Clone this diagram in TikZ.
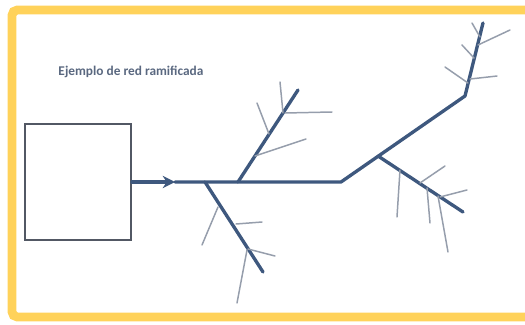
\documentclass[tikz,border=0pt]{standalone}
\usepackage{fontspec}
\setmainfont{Carlito}
\usetikzlibrary{arrows.meta, positioning}
\definecolor{pipeblue}{RGB}{62,88,126}
\definecolor{twiggray}{RGB}{150,158,172}
\definecolor{boxgray}{RGB}{82,88,100}
\definecolor{framegold}{RGB}{255,210,90}
\definecolor{titlegray}{RGB}{90,104,128}

\begin{document}
\begin{tikzpicture}[x=0.02cm, y=-0.02cm,
    trunk/.style={draw=pipeblue, line width=1.9pt, line cap=round},
    twig/.style={draw=twiggray, line width=0.85pt, line cap=round},
    tank/.style={draw=boxgray, line width=1.1pt, minimum width=2.12cm, minimum height=2.32cm, inner sep=0pt}]
        \useasboundingbox (0,0) rectangle (525,325);
        % Frame (right side runs off the page)
        \draw[framegold, line width=5pt, rounded corners=3pt] (540,10) -- (12,10) -- (12,317) -- (540,317);
        % Title
        \node[font=\bfseries\fontsize{7.6}{9}\selectfont, text=titlegray] (title) at (131,72) {Ejemplo de red ramificada};
        % Tank and main pipe
        \node[tank] (tank) at (78,182) {};
        \coordinate (arr) at (175,182);
        \coordinate (bend) at (341,182);
        \coordinate (elbow) at (465,96);
        \coordinate (top) at (483,23);
        \draw[trunk, -{Stealth[length=7pt,width=7pt]}] (tank.east) -- (arr);
        \draw[trunk, line join=round] (arr) -- (bend) -- (elbow) -- (top);
        % Main branches
        \coordinate (a0) at (205,182);  \coordinate (a1) at (263,272);
        \coordinate (b0) at (238,182);  \coordinate (b1) at (298,90);
        \coordinate (c0) at (378,156);  \coordinate (c1) at (463,212);
        \draw[trunk] (a0) -- (a1);
        \draw[trunk] (b0) -- (b1);
        \draw[trunk] (c0) -- (c1);
        % Twigs
        \foreach \xa/\ya/\xb/\yb in {218/207/202/245, 236/224/262/222, 248/249/275/256, 247/250/237/303,
                                     269/134/257/103, 255/156/306/139, 283/113/280/82, 285/113/332/112,
                                     400/170/397/217, 420/183/445/166, 427/188/430/223, 440/197/467/190, 438/196/448/252,
                                     480/37/472/23, 478/45/510/30, 474/58/462/45, 468/83/445/67, 470/79/497/76}
          \draw[twig] (\xa,\ya) -- (\xb,\yb);
      \end{tikzpicture}
\end{document}
